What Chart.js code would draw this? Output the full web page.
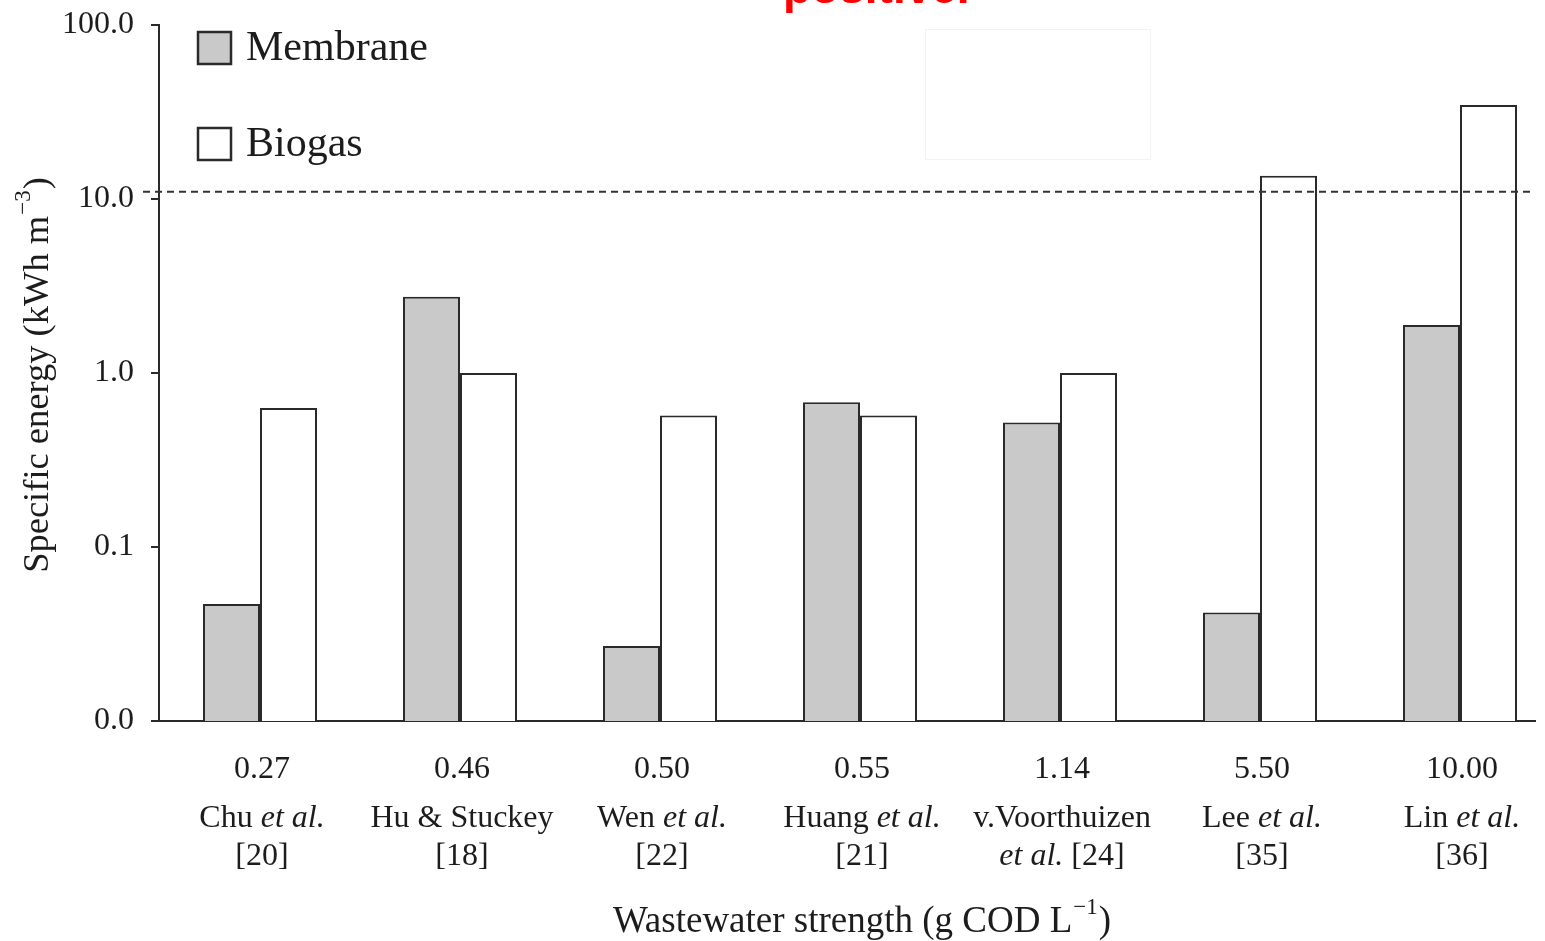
<!DOCTYPE html>
<html>
<head>
<meta charset="utf-8">
<script src="https://cdn.jsdelivr.net/npm/chart.js@4.4.1/dist/chart.umd.min.js"></script>
<style>
  html, body { margin: 0; padding: 0; background: #fff; overflow: hidden; }
  #wrap { position: relative; width: 1545px; height: 941px; }
</style>
</head>
<body>
<div id="wrap"><canvas id="myChart"></canvas></div>
<script>
// data
const strengths = ["0.27", "0.46", "0.50", "0.55", "1.14", "5.50", "10.00"];
const studies = ["Chu *et al.*", "Hu & Stuckey", "Wen *et al.*", "Huang *et al.*", "v.Voorthuizen", "Lee *et al.*", "Lin *et al.*"];
const refs = ["[20]", "[18]", "[22]", "[21]", "*et al.* [24]", "[35]", "[36]"];
const membrane = [0.047, 2.74, 0.027, 0.68, 0.52, 0.042, 1.89];
const biogas = [0.63, 1.0, 0.57, 0.57, 1.0, 13.6, 34.7];
const yTicks = [0.01, 0.1, 1, 10, 100];
const yTickLabels = ["0.0", "0.1", "1.0", "10.0", "100.0"];
const breakEven = 11;

const SERIF = "'Liberation Serif', 'Times New Roman', serif";
const INK = "#1c1c1c";

// text with *italic* parts, centred on cx
function drawRich(ctx, str, cx, cy, size) {
  const parts = str.split("*");
  const widths = parts.map((p, k) => {
    ctx.font = (k % 2 ? "italic " : "") + size + "px " + SERIF;
    return ctx.measureText(p).width;
  });
  let x = cx - widths.reduce((a, b) => a + b, 0) / 2;
  parts.forEach((p, k) => {
    ctx.font = (k % 2 ? "italic " : "") + size + "px " + SERIF;
    ctx.fillText(p, x, cy);
    x += widths[k];
  });
}

// text + superscript + tail, centred on 0,0 of current transform
function drawSup(ctx, main, sup, tail, size) {
  const f = size + "px " + SERIF;
  const fs = Math.round(size * 0.62) + "px " + SERIF;
  ctx.font = f; const w1 = ctx.measureText(main).width;
  ctx.font = fs; const w2 = ctx.measureText(sup).width;
  ctx.font = f; const w3 = ctx.measureText(tail).width;
  let x = -(w1 + w2 + w3) / 2;
  ctx.font = f; ctx.fillText(main, x, 0); x += w1;
  ctx.font = fs; ctx.fillText(sup, x + 1, -size * 0.38); x += w2 + 2;
  ctx.font = f; ctx.fillText(tail, x, 0);
}

const decorations = {
  id: "decorations",
  afterDraw(chart) {
    const ctx = chart.ctx;
    const xs = chart.scales.x;
    const ys = chart.scales.y;
    ctx.save();

    // break-even dashed line
    const yl = ys.getPixelForValue(breakEven);
    ctx.strokeStyle = "#333";
    ctx.lineWidth = 2;
    ctx.setLineDash([7, 5]);
    ctx.beginPath();
    ctx.moveTo(143, yl);
    ctx.lineTo(chart.chartArea.right, yl);
    ctx.stroke();
    ctx.setLineDash([]);

    // faint box
    ctx.strokeStyle = "#f3f3f3";
    ctx.lineWidth = 1;
    ctx.strokeRect(925.5, 29.5, 225, 130);

    // legend
    const items = [
      { text: "Membrane", ds: chart.data.datasets[0], y: 48 },
      { text: "Biogas", ds: chart.data.datasets[1], y: 144 }
    ];
    items.forEach((it) => {
      ctx.fillStyle = it.ds.backgroundColor;
      ctx.fillRect(198, it.y - 16, 33, 32);
      ctx.strokeStyle = it.ds.borderColor;
      ctx.lineWidth = 2.5;
      ctx.strokeRect(198, it.y - 16, 33, 32);
      ctx.fillStyle = INK;
      ctx.font = "42px " + SERIF;
      ctx.textAlign = "left";
      ctx.textBaseline = "middle";
      ctx.fillText(it.text, 246, it.y + 1);
    });

    // category labels
    ctx.fillStyle = INK;
    ctx.textAlign = "left";
    ctx.textBaseline = "middle";
    strengths.forEach((s, i) => {
      const cx = xs.getPixelForValue(i) + 2;
      drawRich(ctx, s, cx, 770, 32);
      drawRich(ctx, studies[i], cx, 819, 32);
      drawRich(ctx, refs[i], cx, 857, 32);
    });

    // axis titles
    ctx.textBaseline = "middle";
    ctx.save();
    ctx.translate(861, 922);
    drawSup(ctx, "Wastewater strength (g COD L", "\u22121", ")", 37);
    ctx.restore();
    ctx.save();
    ctx.translate(38, 376);
    ctx.rotate(-Math.PI / 2);
    drawSup(ctx, "Specific energy (kWh m", "\u22123", ")", 36.5);
    ctx.restore();

    // red caption, cut at top edge
    ctx.fillStyle = "#ff0000";
    ctx.font = "bold 46px 'Liberation Sans', Arial, sans-serif";
    ctx.textBaseline = "alphabetic";
    ctx.textAlign = "left";
    ctx.fillText("positive.", 783, 3);

    ctx.restore();
  }
};

const ctx = document.getElementById("myChart").getContext("2d");
const myChart = new Chart(ctx, {
  type: "bar",
  data: {
    datasets: [
      {
        label: "Membrane",
        data: membrane.map((v, i) => ({ x: i, y: v })),
        backgroundColor: "#c9c9c9",
        borderColor: "#2a2a2a",
        borderWidth: 2,
        borderSkipped: "start"
      },
      {
        label: "Biogas",
        data: biogas.map((v, i) => ({ x: i, y: v })),
        backgroundColor: "#ffffff",
        borderColor: "#2a2a2a",
        borderWidth: 2,
        borderSkipped: "start"
      }
    ]
  },
  options: {
    responsive: true,
    maintainAspectRatio: false,
    animation: false,
    categoryPercentage: 0.57,
    barPercentage: 1.0,
    layout: { padding: { top: 25, right: 10, bottom: 220, left: 0 } },
    plugins: {
      legend: false,
      tooltip: { enabled: false }
    },
    scales: {
      x: {
        type: "linear",
        offset: false,
        min: -0.505,
        max: 6.375,
        afterBuildTicks: (scale) => {
          scale.ticks = strengths.map((s, i) => ({ value: i }));
        },
        afterFit: (scale) => {
          scale.height = 0;
          scale.paddingLeft = 0;
          scale.paddingRight = 0;
        },
        ticks: { display: false },
        grid: { display: false },
        border: { display: true, color: "#2a2a2a", width: 2 }
      },
      y: {
        type: "logarithmic",
        min: 0.01,
        max: 100,
        afterBuildTicks: (scale) => {
          scale.ticks = yTicks.map((v) => ({ value: v }));
        },
        afterFit: (scale) => {
          scale.width = 159;
          scale.paddingTop = 0;
          scale.paddingBottom = 0;
        },
        ticks: {
          padding: 17,
          color: INK,
          font: { family: SERIF, size: 32 },
          callback: (value) => {
            const k = yTicks.indexOf(value);
            return k >= 0 ? yTickLabels[k] : "";
          }
        },
        grid: {
          drawOnChartArea: false,
          drawTicks: true,
          tickLength: 8,
          color: "#2a2a2a",
          lineWidth: 2
        },
        border: { display: true, color: "#2a2a2a", width: 2 }
      }
    }
  },
  plugins: [decorations]
});
</script>
</body>
</html>
